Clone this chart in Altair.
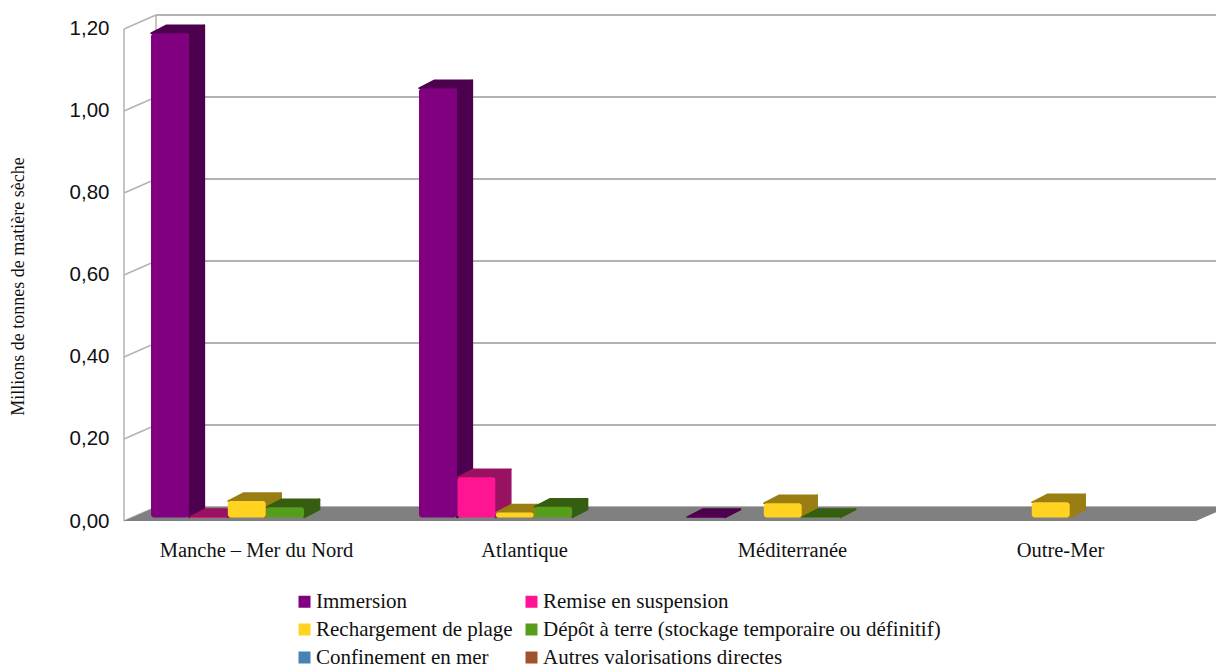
import json
import altair as alt
import pandas as pd

# Tonnages by coastal zone, millions of tonnes of dry matter
zones = ["Manche – Mer du Nord", "Atlantique", "Méditerranée", "Outre-Mer"]
series = ["Immersion", "Remise en suspension", "Rechargement de plage",
          "Dépôt à terre (stockage temporaire ou définitif)",
          "Confinement en mer", "Autres valorisations directes"]
immersion = [1.181, 1.047, 0.001, 0]
suspension = [0.001, 0.098, 0, 0]
rechargement = [0.040, 0.012, 0.035, 0.037]
depot = [0.025, 0.026, 0.001, 0]
confinement = [0, 0, 0, 0]
autres = [0, 0, 0, 0]
values = [immersion, suspension, rechargement, depot, confinement, autres]

front_colors = ["#800080", "#ff1493", "#ffd320", "#579d1c", "#4682b4", "#a0522d"]
shade_colors = ["#4d004d", "#991161", "#997e13", "#355e11", "#2a4e6c", "#60311b"]
ticks = [0, 0.2, 0.4, 0.6, 0.8, 1.0, 1.2]

# Oblique projection: depth is expressed in data units on both axes
UNIT_X = 268.0
UNIT_Y = 410.8
FLOOR_DX, FLOOR_DY = 32 / UNIT_X, 14 / UNIT_Y
BAR_DX, BAR_DY = 15.5 / UNIT_X, 8 / UNIT_Y
BASE_DX, BASE_DY = 8 / UNIT_X, 3.5 / UNIT_Y
SLOT = 38.4 / UNIT_X
GAP = 19 / UNIT_X
X_MAX = 1092 / UNIT_X
Y_MAX = 1.2 + FLOOR_DY

x_scale = alt.Scale(domain=[0, X_MAX], nice=False, zero=False)
y_scale = alt.Scale(domain=[0, Y_MAX], nice=False, zero=False)
GRID = "#b3b3b3"

fronts, sides, tops = [], [], []
for s, name in enumerate(series):
    for z in range(len(zones)):
        v = values[s][z]
        if v == 0:
            continue
        xl = z + BASE_DX + GAP + s * SLOT
        xr = xl + SLOT - 0.5 / UNIT_X
        y0 = BASE_DY
        yv = v + BASE_DY
        bar = f"{s}-{z}"
        fronts.append(dict(serie=name, x=xl, x2=xr, y=yv, y2=y0))
        sides += [
            dict(s=s, bar=bar, x=xr, y=yv, y2=y0),
            dict(s=s, bar=bar, x=xr + BAR_DX, y=yv + BAR_DY, y2=y0 + BAR_DY),
        ]
        tops += [
            dict(s=s, bar=bar, x=xl, y=yv, y2=yv),
            dict(s=s, bar=bar, x=xl + BAR_DX, y=yv + BAR_DY, y2=yv),
            dict(s=s, bar=bar, x=xr, y=yv + BAR_DY, y2=yv),
            dict(s=s, bar=bar, x=xr + BAR_DX, y=yv + BAR_DY, y2=yv + BAR_DY),
        ]
fronts = pd.DataFrame(fronts)
sides = pd.DataFrame(sides)
tops = pd.DataFrame(tops)

labels_js = json.dumps(zones, ensure_ascii=False)

x_axis = alt.Axis(
    values=[i + 0.5 - 2 / UNIT_X for i in range(len(zones))],
    labelExpr=f"{labels_js}[floor(datum.value)]",
    domain=False, ticks=False, grid=False, title=None,
    labelFont="Liberation Serif", labelFontSize=20.5, labelColor="#111111",
    labelPadding=19, labelOverlap=False, labelFlush=False, labelBound=False,
    labelLimit=500,
)
y_axis = alt.Axis(
    values=ticks, format=".2f", labelExpr="replace(datum.label, '.', ',')",
    domain=False, ticks=False, grid=False,
    labelFont="Liberation Sans", labelFontSize=20.5, labelColor="#111111",
    labelPadding=15, labelOverlap=False, labelFlush=False,
    title="Millions de tonnes de matière sèche",
    titleFont="Liberation Serif", titleFontSize=18, titleFontWeight="normal",
    titleColor="#111111", titleX=-97, titleY=271,
)

# Every layer shares the same positional channels, axes included
X = alt.X("x:Q", scale=x_scale, axis=x_axis)
Y = alt.Y("y:Q", scale=y_scale, axis=y_axis)

# Back wall gridlines and the lines of the side wall
back_grid = pd.DataFrame({"x": FLOOR_DX, "x2": X_MAX, "y": [t + FLOOR_DY for t in ticks]})
back_rules = alt.Chart(back_grid).mark_rule(color=GRID, strokeWidth=2).encode(x=X, x2="x2:Q", y=Y)

diagonals = pd.DataFrame(
    [dict(t=t, x=0, y=t) for t in ticks] + [dict(t=t, x=FLOOR_DX, y=t + FLOOR_DY) for t in ticks]
)
wall_diagonals = alt.Chart(diagonals).mark_line(color=GRID, strokeWidth=1.5).encode(x=X, y=Y, detail="t:N")

verticals = pd.DataFrame([
    dict(x=0.0, y=0.0, y2=ticks[-1]),
    dict(x=FLOOR_DX, y=FLOOR_DY, y2=ticks[-1] + FLOOR_DY),
])
wall_verticals = alt.Chart(verticals).mark_rule(color=GRID, strokeWidth=1.5).encode(x=X, y=Y, y2="y2:Q")

# Grey floor of the box
floor = pd.DataFrame([
    dict(x=0.0, y=0.0, y2=0.0),
    dict(x=FLOOR_DX, y=FLOOR_DY, y2=0.0),
    dict(x=4.0, y=FLOOR_DY, y2=0.0),
    dict(x=4.0 + FLOOR_DX, y=FLOOR_DY, y2=FLOOR_DY),
])
floor_area = alt.Chart(floor).mark_area(color="#808080", clip=True).encode(x=X, y=Y, y2="y2:Q")

layers = [back_rules, wall_diagonals, wall_verticals, floor_area]


def shaded_faces(table):
    """One darker layer per series, kept in left-to-right drawing order."""
    out = []
    for s in sorted(table["s"].unique()):
        out.append(
            alt.Chart(table[table["s"] == s]).mark_area(
                color=shade_colors[s], stroke=shade_colors[s], strokeWidth=1.5,
                strokeJoin="round", line=False,
            ).encode(x=X, y=Y, y2="y2:Q", detail="bar:N")
        )
    return out


layers += shaded_faces(sides)
layers += shaded_faces(tops)

front_bars = alt.Chart(fronts).mark_rect(cornerRadius=3).encode(
    x=X, x2="x2:Q", y=Y, y2="y2:Q",
    fill=alt.Fill(
        "serie:N",
        scale=alt.Scale(domain=series, range=front_colors),
        legend=alt.Legend(
            title=None, orient="none", legendX=170, legendY=576, columns=2,
            direction="horizontal",
            symbolType="square", symbolSize=144, symbolStrokeWidth=0, symbolOpacity=1,
            labelFont="Liberation Serif", labelFontSize=21, labelColor="#111111",
            labelOffset=1, rowPadding=6, columnPadding=8, labelLimit=500,
        ),
    ),
)
layers.append(front_bars)

chart = alt.layer(*layers).properties(
    width=1092, height=506,
    padding={"left": 124, "top": 15, "right": 0, "bottom": 143},
    autosize=alt.AutoSizeParams(type="none"),
    background="white",
).configure_view(stroke=None)

chart.save("out.html", embed_options={"renderer": "svg", "actions": False})
